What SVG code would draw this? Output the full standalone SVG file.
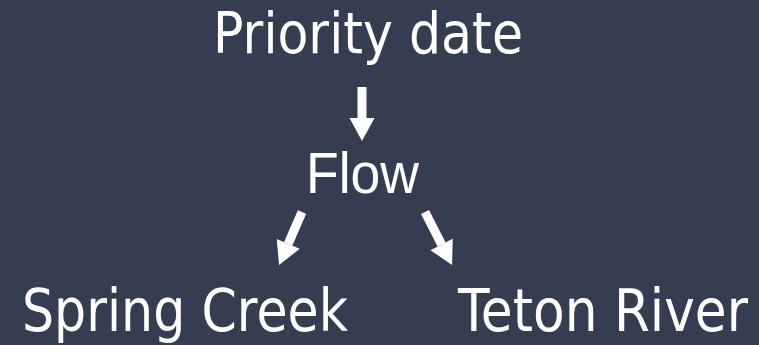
<svg xmlns="http://www.w3.org/2000/svg" width="759" height="345" viewBox="0 0 759 345">
<style>
.t{fill:#ffffff;font-family:"DejaVu Sans",Verdana,sans-serif}
.a{font-family:"Liberation Sans",Arial,sans-serif;fill:#ffffff}
.c{stroke:#ffffff;stroke-width:9;fill:none}
</style>
<defs>
<marker id="h" markerUnits="userSpaceOnUse" markerWidth="24" markerHeight="26" refX="0" refY="12.5" orient="auto" overflow="visible">
<path d="M0,0 L23,12.5 L0,25 Z" fill="#ffffff"/>
</marker>
</defs>
<rect width="759" height="345" fill="#343e50"/>
<g id="priority"><text class="t" x="213" y="53" font-size="57" textLength="310" lengthAdjust="spacingAndGlyphs">Priority date</text></g>
<g id="flow"><text class="a" x="306" y="193" font-size="58" textLength="113" lengthAdjust="spacingAndGlyphs">Flow</text></g>
<g id="spring"><text class="t" x="22" y="331" font-size="59" textLength="326" lengthAdjust="spacingAndGlyphs">Spring Creek</text></g>
<g id="teton"><text class="t" x="458" y="331" font-size="59" textLength="290" lengthAdjust="spacingAndGlyphs">Teton River</text></g>
<g id="connectors">
<line class="c" x1="362" y1="87" x2="362" y2="118" marker-end="url(#h)"/>
<line class="c" x1="302" y1="212" x2="288.2" y2="243.9" marker-end="url(#h)"/>
<line class="c" x1="425" y1="212" x2="441.6" y2="244.5" marker-end="url(#h)"/>
</g>
</svg>
